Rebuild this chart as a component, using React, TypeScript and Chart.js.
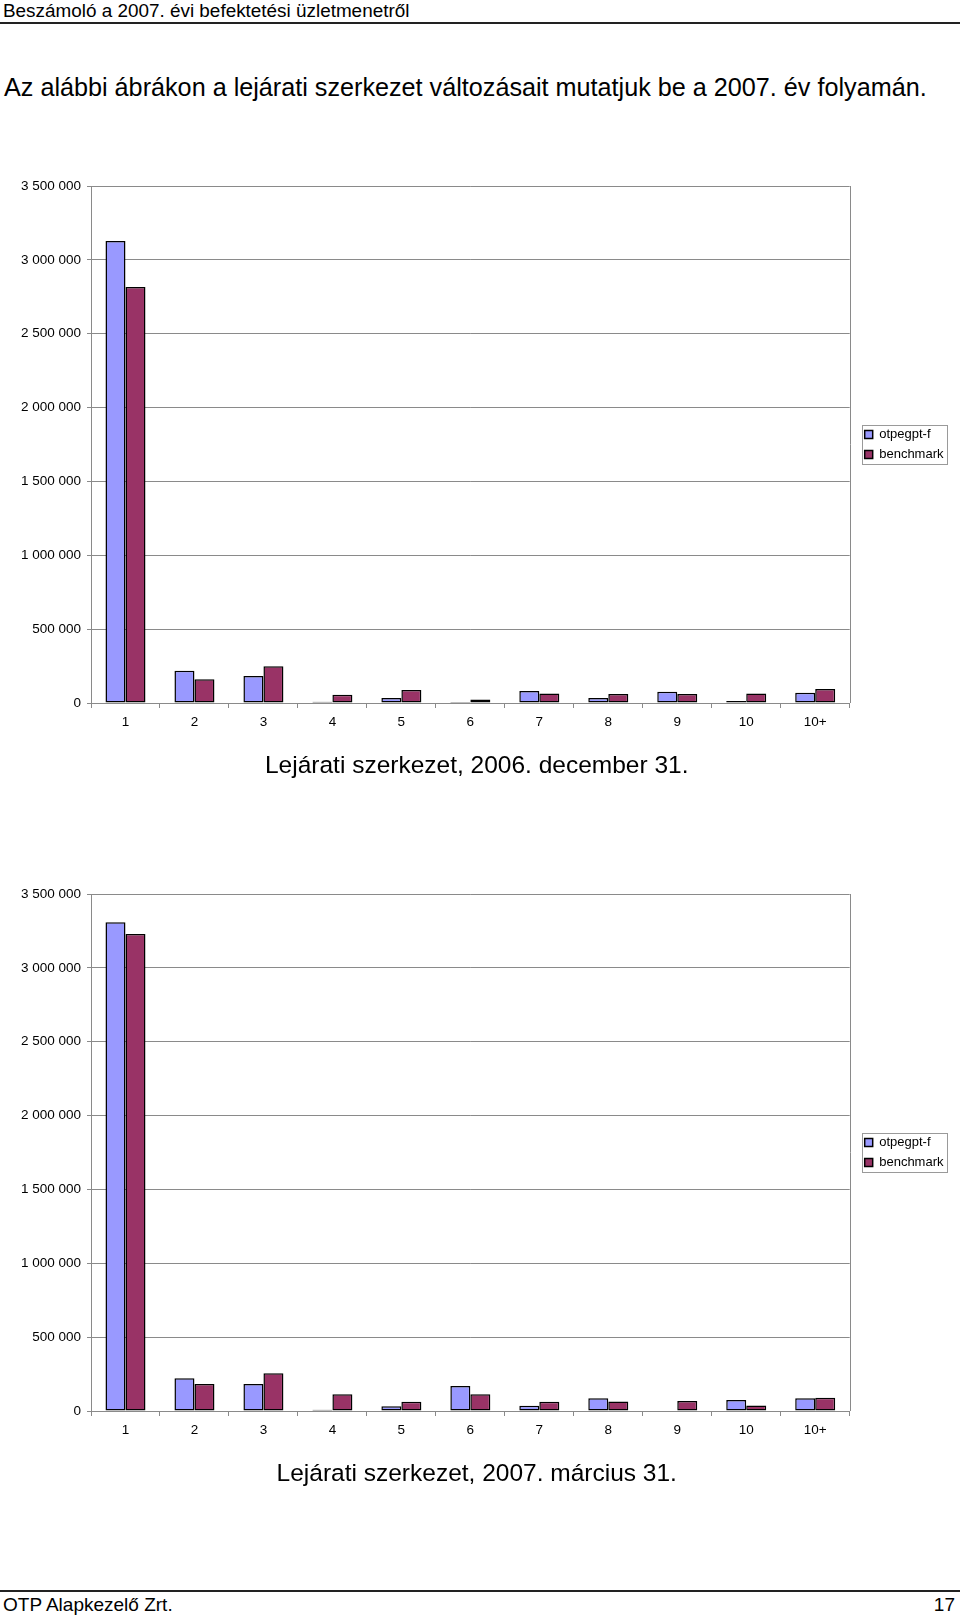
import React, { useEffect, useRef } from 'react';
import { Chart, registerables } from 'chart.js';

Chart.register(...registerables);

const categories = ['1', '2', '3', '4', '5', '6', '7', '8', '9', '10', '10+'];
const seriesNames = ['otpegpt-f', 'benchmark'];
const dec2006Otp = [3128000, 218000, 183000, 9000, 34000, 6000, 81000, 34000, 77000, 14000, 70000];
const dec2006Bench = [2817000, 160000, 248000, 56000, 88000, 23000, 65000, 61000, 61000, 65000, 95000];
const mar2007Otp = [3308000, 221000, 183000, 9000, 32000, 169000, 36000, 86000, 4000, 74000, 86000];
const mar2007Bench = [3229000, 183000, 255000, 113000, 63000, 113000, 63000, 65000, 68000, 38000, 90000];
const yTickMax = 3500000;
const yTickStep = 500000;
const title1 = 'Lejárati szerkezet, 2006. december 31.';
const title2 = 'Lejárati szerkezet, 2007. március 31.';

const FONT = '"Liberation Sans", Arial, Helvetica, sans-serif';
const GRID = '#8a8a8a';

function fmt(v: number): string {
  return String(v).replace(/\B(?=(\d{3})+(?!\d))/g, ' ');
}

const framePlugin = {
  id: 'frameRight',
  afterDraw(chart: any) {
    const { ctx, chartArea } = chart;
    ctx.save();
    ctx.strokeStyle = GRID;
    ctx.lineWidth = 1;
    const x = Math.round(chartArea.right) + 0.5;
    ctx.beginPath();
    ctx.moveTo(x, chartArea.top);
    ctx.lineTo(x, chartArea.bottom);
    ctx.stroke();
    ctx.restore();
  },
};

const legendBorderPlugin = {
  id: 'legendBorder',
  afterDraw(chart: any) {
    const lg = chart.legend;
    const hb = lg && lg.legendHitBoxes;
    if (!hb || !hb.length) return;
    const ctx = chart.ctx;
    const x0 = Math.round(hb[0].left - 3) + 0.5;
    const y0 = Math.round(hb[0].top - 3) + 0.5;
    const last = hb[hb.length - 1];
    const y1 = Math.round(last.top + last.height + 3) + 0.5;
    ctx.save();
    ctx.strokeStyle = '#9a9a9a';
    ctx.lineWidth = 1;
    ctx.strokeRect(x0, y0, 85, y1 - y0);
    ctx.restore();
  },
};

function BarChart({ otp, bench, title }: { otp: number[]; bench: number[]; title: string }) {
  const ref = useRef<HTMLCanvasElement | null>(null);
  useEffect(() => {
    if (!ref.current) return;
    const chart = new Chart(ref.current, {
      type: 'bar',
      data: {
        labels: categories,
        datasets: [
          {
            label: seriesNames[0],
            data: otp,
            backgroundColor: '#9999FF',
            borderColor: '#000000',
            borderWidth: 1.5,
            borderSkipped: false,
            inflateAmount: 0,
            categoryPercentage: 0.58,
            barPercentage: 1,
          },
          {
            label: seriesNames[1],
            data: bench,
            backgroundColor: '#993366',
            borderColor: '#000000',
            borderWidth: 1.5,
            borderSkipped: false,
            inflateAmount: 0,
            categoryPercentage: 0.58,
            barPercentage: 1,
          },
        ],
      },
      options: {
        responsive: false,
        animation: false,
        devicePixelRatio: 1,
        layout: { padding: { top: 16, bottom: 8.6, left: 0, right: 6.5 } },
        plugins: {
          legend: {
            display: true,
            position: 'right',
            align: 'center',
            fullSize: false,
            labels: {
              boxWidth: 8,
              boxHeight: 8,
              padding: 7,
              color: '#000',
              font: { family: FONT, size: 13 },
            },
          },
          title: {
            display: true,
            position: 'bottom',
            text: title,
            color: '#000',
            font: { family: FONT, size: 24.5, weight: 'normal' },
            padding: { top: 19, bottom: 0 },
          },
          tooltip: { enabled: false },
        },
        scales: {
          x: {
            grid: {
              display: true,
              offset: true,
              drawOnChartArea: false,
              drawTicks: true,
              tickLength: 5,
              color: GRID,
            },
            border: { display: true, color: GRID },
            ticks: { color: '#000', padding: 6, font: { family: FONT, size: 13.5 }, maxRotation: 0 },
            afterFit: (s: any) => {
              s.height = 30;
            },
          },
          y: {
            min: 0,
            max: yTickMax,
            grid: { color: GRID, tickLength: 4, drawTicks: true },
            border: { display: true, color: GRID },
            ticks: {
              stepSize: yTickStep,
              color: '#000',
              padding: 6,
              font: { family: FONT, size: 13.5 },
              callback: (v: any) => fmt(Number(v)),
            },
            afterFit: (s: any) => {
              s.width = 91;
            },
          },
          gap: {
            type: 'linear',
            position: 'right',
            display: true,
            grid: { display: false },
            ticks: { display: false },
            border: { display: false },
            afterFit: (s: any) => {
              s.width = 8;
            },
          },
        },
      } as any,
      plugins: [framePlugin, legendBorderPlugin],
    });
    return () => chart.destroy();
  }, [otp, bench, title]);
  return <canvas ref={ref} width={960} height={620} style={{ display: 'block', width: 960, height: 620 }} />;
}

export default function App() {
  const page: React.CSSProperties = {
    position: 'absolute',
    left: 0,
    top: 0,
    width: 960,
    height: 1617,
    overflow: 'hidden',
    background: '#fff',
    fontFamily: FONT,
    color: '#000',
  };
  return (
    <div style={page}>
      <div style={{ position: 'absolute', left: 3, top: 0, fontSize: 18.9, whiteSpace: 'nowrap' }}>
        Beszámoló a 2007. évi befektetési üzletmenetről
      </div>
      <div style={{ position: 'absolute', left: 0, top: 22, width: 960, height: 2, background: '#222' }} />
      <div style={{ position: 'absolute', left: 4, top: 73, fontSize: 25.2, whiteSpace: 'nowrap' }}>
        Az alábbi ábrákon a lejárati szerkezet változásait mutatjuk be a 2007. év folyamán.
      </div>
      <div style={{ position: 'absolute', left: 0, top: 170 }}>
        <BarChart otp={dec2006Otp} bench={dec2006Bench} title={title1} />
      </div>
      <div style={{ position: 'absolute', left: 0, top: 878 }}>
        <BarChart otp={mar2007Otp} bench={mar2007Bench} title={title2} />
      </div>
      <div style={{ position: 'absolute', left: 0, top: 1590, width: 960, height: 2, background: '#222' }} />
      <div style={{ position: 'absolute', left: 3, top: 1594, fontSize: 19, whiteSpace: 'nowrap' }}>
        OTP Alapkezelő Zrt.
      </div>
      <div style={{ position: 'absolute', right: 5, top: 1594, fontSize: 19, whiteSpace: 'nowrap' }}>17</div>
    </div>
  );
}
